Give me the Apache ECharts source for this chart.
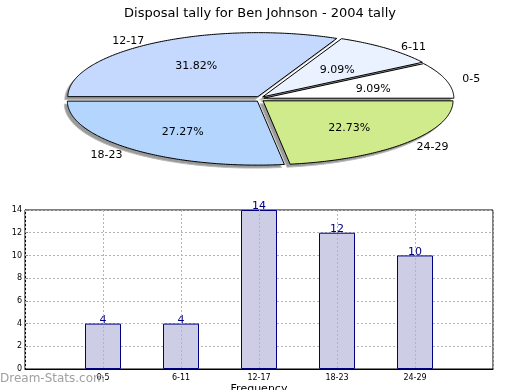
<!DOCTYPE html>
<html><head><meta charset="utf-8">
<script src="https://cdn.jsdelivr.net/npm/echarts@6/dist/echarts.min.js"></script>
<style>html,body{margin:0;padding:0;background:#fff}#c{width:520px;height:390px}</style>
</head><body><div id="c"></div>
<script>
const titleText = 'Disposal tally for Ben Johnson - 2004 tally';
const categories = ['0-5', '6-11', '12-17', '18-23', '24-29'];
const tallyValues = [4, 4, 14, 12, 10];
const sliceColors = ['#ffffff', '#eaf1ff', '#c5d9fe', '#b4d5fe', '#d0eb8c'];
const yTicks = [0, 2, 4, 6, 8, 10, 12, 14];

const PIE = {cx: 260, cy: 99, rx: 190, ry: 64, explode: 4, shx: -3, shy: 3};

function sliceGeom(i) {
  const total = tallyValues.reduce((a, b) => a + b, 0);
  let s = 0;
  for (let k = 0; k < i; k++) s += tallyValues[k];
  const a0 = s / total * 2 * Math.PI;
  const a1 = (s + tallyValues[i]) / total * 2 * Math.PI;
  const am = (a0 + a1) / 2;
  const ox = PIE.cx + PIE.explode * Math.cos(am);
  const oy = PIE.cy - PIE.explode * 0.7 * Math.sin(am);
  const pts = [[ox, oy]];
  const n = Math.max(10, Math.ceil((a1 - a0) * 80));
  for (let j = 0; j <= n; j++) {
    const a = a0 + (a1 - a0) * j / n;
    pts.push([ox + PIE.rx * Math.cos(a), oy - PIE.ry * Math.sin(a)]);
  }
  return {a0, a1, am, ox, oy, pts, pct: tallyValues[i] / total * 100};
}

function renderShadow(params, api) {
  const g = sliceGeom(params.dataIndex);
  return {type: 'polygon', shape: {points: g.pts.map(p => [p[0] + PIE.shx, p[1] + PIE.shy])},
    style: {fill: '#9a9a9a', stroke: '#bbbbbb', lineWidth: 1}};
}
function renderSlice(params, api) {
  const i = params.dataIndex;
  const g = sliceGeom(i);
  const c = Math.cos(g.am), s = Math.sin(g.am);
  const lx = PIE.cx + c * PIE.rx + (c >= 0 ? 29 : -29);
  const ly = PIE.cy - s * PIE.ry - s * (s > 0 ? 5 : 10);
  return {type: 'group', children: [
    {type: 'polygon', shape: {points: g.pts},
      style: {fill: sliceColors[i], stroke: '#000', lineWidth: 1}},
    {type: 'text', style: {text: g.pct.toFixed(2) + '%', x: g.ox + c * PIE.rx * 0.6, y: g.oy - s * PIE.ry * 0.6 + 2,
      align: 'center', verticalAlign: 'middle', fill: '#000', fontSize: 11, fontFamily: 'DejaVu Sans'}},
    {type: 'text', style: {text: categories[i], x: lx, y: ly,
      align: 'center', verticalAlign: 'middle', fill: '#000', fontSize: 11, fontFamily: 'DejaVu Sans'}}
  ]};
}

const xCats = [''].concat(categories, ['']);
const barData = ['-'].concat(tallyValues, ['-']);

const chart = echarts.init(document.getElementById('c'), null, {renderer: 'canvas'});
chart.setOption({
  animation: false,
  backgroundColor: '#fff',
  textStyle: {fontFamily: 'DejaVu Sans'},
  title: {text: titleText, left: 'center', top: 2,
    textStyle: {fontSize: 13, fontWeight: 'normal', color: '#000', fontFamily: 'DejaVu Sans'}},
  grid: {left: 25, right: 27, top: 210, bottom: 21, show: true, borderColor: '#000', borderWidth: 1,
    containLabel: false, outerBoundsMode: 'none'},
  xAxis: {type: 'category', data: xCats, boundaryGap: false, z: 10,
    name: 'Frequency', nameLocation: 'middle', nameGap: 15,
    nameTextStyle: {fontSize: 11, color: '#000', fontFamily: 'DejaVu Sans'},
    axisLine: {lineStyle: {color: '#000'}},
    axisTick: {show: false},
    axisLabel: {fontSize: 8, color: '#000', margin: 5, interval: 0, fontFamily: 'DejaVu Sans'},
    splitLine: {show: true, lineStyle: {color: '#b5b5b5', type: [2, 2], width: 1}}},
  yAxis: {type: 'value', min: yTicks[0], max: yTicks[yTicks.length - 1], interval: 2,
    name: 'Stat Intervals', nameLocation: 'middle', nameGap: 16, nameRotate: 90,
    nameTextStyle: {fontSize: 11, color: '#000', fontFamily: 'DejaVu Sans'},
    axisLine: {show: true, lineStyle: {color: '#000'}},
    axisTick: {show: true, inside: true, length: 3, lineStyle: {color: '#888'}},
    axisLabel: {fontSize: 8, color: '#000', margin: 3, fontFamily: 'DejaVu Sans'},
    splitLine: {show: true, lineStyle: {color: '#b5b5b5', type: [2, 2], width: 1}}},
  graphic: [{type: 'text', left: 0, top: 373, z: 100,
    style: {text: 'Dream-Stats.com', fontSize: 12, fill: '#a0a0a0', fontFamily: 'DejaVu Sans'}}],
  series: [
    {type: 'custom', coordinateSystem: 'none', renderItem: renderShadow, data: tallyValues, z: 1, silent: true},
    {type: 'custom', coordinateSystem: 'none', renderItem: renderSlice, data: tallyValues, z: 2, silent: true},
    {type: 'bar', data: barData, barWidth: 36, z: 2,
      itemStyle: {color: '#cdcde6', borderColor: '#000080', borderWidth: 1},
      label: {show: true, position: 'top', distance: -2, color: '#000080', fontSize: 11, fontFamily: 'DejaVu Sans'}}
  ]
});
</script></body></html>
